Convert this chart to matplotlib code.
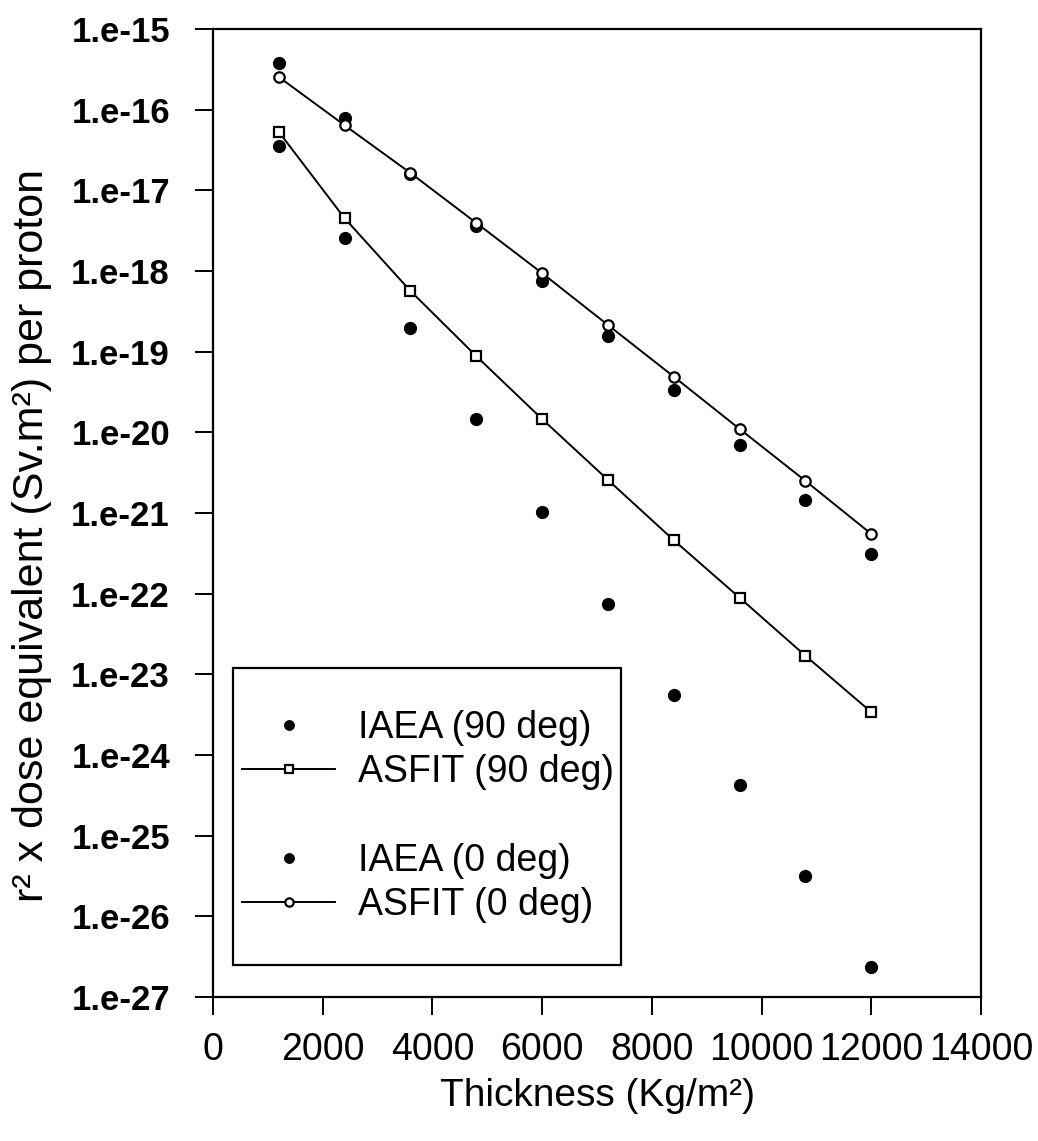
import matplotlib
matplotlib.use("Agg")
import matplotlib.pyplot as plt
from matplotlib.lines import Line2D
from matplotlib.patches import Rectangle
from matplotlib.ticker import FixedLocator, NullLocator, FuncFormatter
import numpy as np

thickness = [1200, 2400, 3600, 4800, 6000, 7200, 8400, 9600, 10800, 12000]

iaea_90 = [3.55e-17, 2.6e-18, 1.95e-19, 1.46e-20, 1.02e-21, 7.4e-23,
           5.5e-24, 4.3e-25, 3.2e-26, 2.35e-27]
asfit_90 = [5.3e-17, 4.5e-18, 5.65e-19, 8.8e-20, 1.46e-20, 2.57e-21,
            4.6e-22, 8.9e-23, 1.7e-23, 3.4e-24]
iaea_0 = [3.8e-16, 7.9e-17, 1.6e-17, 3.6e-18, 7.6e-19, 1.56e-19,
          3.35e-20, 6.9e-21, 1.44e-21, 3.1e-22]
asfit_0 = [2.54e-16, 6.4e-17, 1.64e-17, 3.94e-18, 9.4e-19, 2.14e-19,
           4.9e-20, 1.1e-20, 2.5e-21, 5.5e-22]

x_ticks = [0, 2000, 4000, 6000, 8000, 10000, 12000, 14000]
y_exponents = list(range(-27, -14))

labels = ["IAEA (90 deg)", "ASFIT (90 deg)", "IAEA (0 deg)", "ASFIT (0 deg)"]
xlabel = "Thickness (Kg/m²)"
ylabel = "r² x dose equivalent (Sv.m²) per proton"

plt.rcParams['font.family'] = ['Liberation Sans', 'DejaVu Sans']

W, H = 1038, 1141
fig = plt.figure(figsize=(W / 100, H / 100), dpi=100)
ax = fig.add_axes([213 / W, 1 - 997 / H, (981 - 213) / W, (997 - 29) / H])

ax.set_yscale('log')
ax.set_xlim(0, 14000)
ax.set_ylim(1e-27, 1e-15)

ms_fill = 8.5
ms_open = 7.5
lw = 1.4

h1, = ax.plot(thickness, iaea_90, linestyle='none', marker='o', ms=ms_fill,
              mfc='black', mec='black', zorder=3)
h2, = ax.plot(thickness, asfit_90, color='black', lw=lw, marker='s', ms=ms_open,
              mfc='white', mec='black', mew=1.6, zorder=4)
h3, = ax.plot(thickness, iaea_0, linestyle='none', marker='o', ms=ms_fill,
              mfc='black', mec='black', zorder=3)
h4, = ax.plot(thickness, asfit_0, color='black', lw=lw, marker='o', ms=ms_open,
              mfc='white', mec='black', mew=1.6, zorder=4)

ax.xaxis.set_major_locator(FixedLocator(x_ticks))
ax.set_xticklabels([str(v) for v in x_ticks])
ax.yaxis.set_major_locator(FixedLocator([10.0 ** e for e in y_exponents]))
ax.yaxis.set_minor_locator(NullLocator())
ax.yaxis.set_major_formatter(FuncFormatter(lambda v, p: "1.e%d" % int(round(np.log10(v)))))

for s in ax.spines.values():
    s.set_linewidth(1.6)
ax.tick_params(axis='both', which='major', direction='out', length=13, width=1.4)
ax.tick_params(axis='x', labelsize=27, pad=12)
ax.tick_params(axis='y', labelsize=25, pad=18)
for t in ax.get_yticklabels():
    t.set_fontweight('bold')

# legend frame (drawn separately so the inner padding can differ per side)
fig.patches.append(Rectangle((233 / W, 1 - 965 / H), (621 - 233) / W, (965 - 668) / H,
                             transform=fig.transFigure, fill=False, edgecolor='black',
                             linewidth=1.6, zorder=5))

blank = Line2D([], [], linestyle='none', marker=None)
leg = ax.legend([h1, h2, blank, h3, h4], [labels[0], labels[1], " ", labels[2], labels[3]],
                loc='upper left', bbox_to_anchor=(242 / W, 1 - 710 / H),
                bbox_transform=fig.transFigure, fontsize=27, frameon=False,
                handlelength=2.48, handletextpad=0.61, labelspacing=0.22,
                borderpad=0, borderaxespad=0, markerscale=0.8)

fig.text(597 / W, 1 - 1096 / H, xlabel, ha='center', va='center', fontsize=28)
fig.text(32 / W, 1 - 535 / H, ylabel, ha='center', va='center', fontsize=31,
         rotation=90)

fig.savefig("out.png", dpi=100)
